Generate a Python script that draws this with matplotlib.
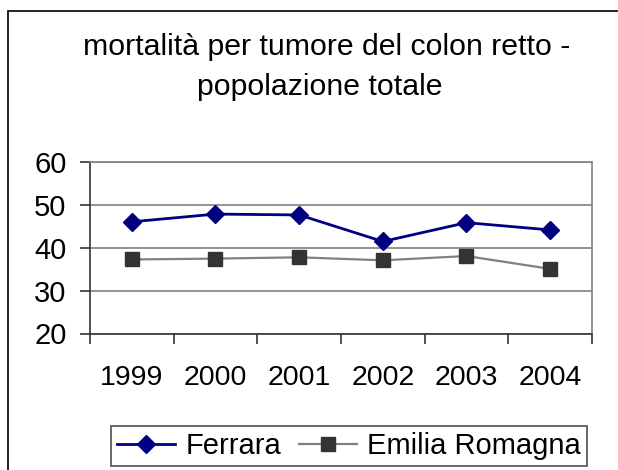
import matplotlib
matplotlib.use("Agg")
import matplotlib.pyplot as plt
from matplotlib.patches import Rectangle

plt.rcParams['font.family'] = ['Liberation Sans', 'DejaVu Sans']

years = ['1999', '2000', '2001', '2002', '2003', '2004']
ferrara = [46.1, 47.9, 47.7, 41.5, 45.9, 44.2]
emilia_romagna = [37.3, 37.5, 37.8, 37.1, 38.1, 35.1]
y_ticks = [20, 30, 40, 50, 60]
title_lines = ['mortalità per tumore del colon retto -', 'popolazione totale']
series_names = ['Ferrara', 'Emilia Romagna']

W, H = 618, 470
fig = plt.figure(figsize=(W / 100, H / 100), dpi=100)
fig.patch.set_facecolor('white')

# outer chart frame (left and top edges visible)
fig.add_artist(Rectangle((8 / W, -0.1), 1.2, (H - 11) / H + 0.1,
                         transform=fig.transFigure, fill=False,
                         edgecolor='#111111', linewidth=1.3))

ax = fig.add_axes([90 / W, 1 - 333.5 / H, (592 - 90) / W, (333.5 - 162.3) / H])
x = list(range(len(years)))

ax.plot(x, ferrara, color='#000080', linewidth=2.0, marker='D',
        markersize=9, markerfacecolor='#000080', markeredgecolor='#000080',
        label=series_names[0], zorder=4)
ax.plot(x, emilia_romagna, color='#808080', linewidth=1.6, marker='s',
        markersize=10.5, markerfacecolor='#333333', markeredgecolor='#333333',
        label=series_names[1], zorder=3)

ax.set_xlim(-0.5, len(years) - 0.5)
ax.set_ylim(y_ticks[0], y_ticks[-1])
ax.set_yticks(y_ticks)
ax.set_yticklabels([str(v) for v in y_ticks])
ax.yaxis.grid(True, color='#808080', linewidth=1.2)
ax.set_axisbelow(True)

# category labels centred, tick marks on category boundaries
ax.set_xticks(x)
ax.set_xticklabels(years)
ax.set_xticks([i - 0.5 for i in range(len(years) + 1)], minor=True)
ax.tick_params(axis='x', which='major', length=0, pad=23, labelsize=20.5)
ax.tick_params(axis='x', which='minor', length=7, width=1.2,
               direction='out', color='#333333')
ax.tick_params(axis='y', length=7, width=1.2, direction='out',
               color='#333333', labelsize=21, pad=10)

for side in ('top', 'right'):
    ax.spines[side].set_color('#808080')
    ax.spines[side].set_linewidth(1.2)
for side in ('left', 'bottom'):
    ax.spines[side].set_color('#333333')
    ax.spines[side].set_linewidth(1.2)

fig.text(327 / W, 1 - 55 / H, title_lines[0], ha='center', va='baseline',
         fontsize=21.8)
fig.text(320 / W, 1 - 95 / H, title_lines[1], ha='center', va='baseline',
         fontsize=21.8)

leg = fig.legend(loc='center', bbox_to_anchor=(349 / W, 1 - 446 / H),
                 ncol=2, fontsize=21, frameon=True, fancybox=False,
                 edgecolor='#222222', handlelength=2.0, handletextpad=0.35,
                 columnspacing=0.6, borderpad=0.2, borderaxespad=0)
leg.get_frame().set_linewidth(1.2)

fig.savefig('out.png', dpi=100, facecolor='white')
